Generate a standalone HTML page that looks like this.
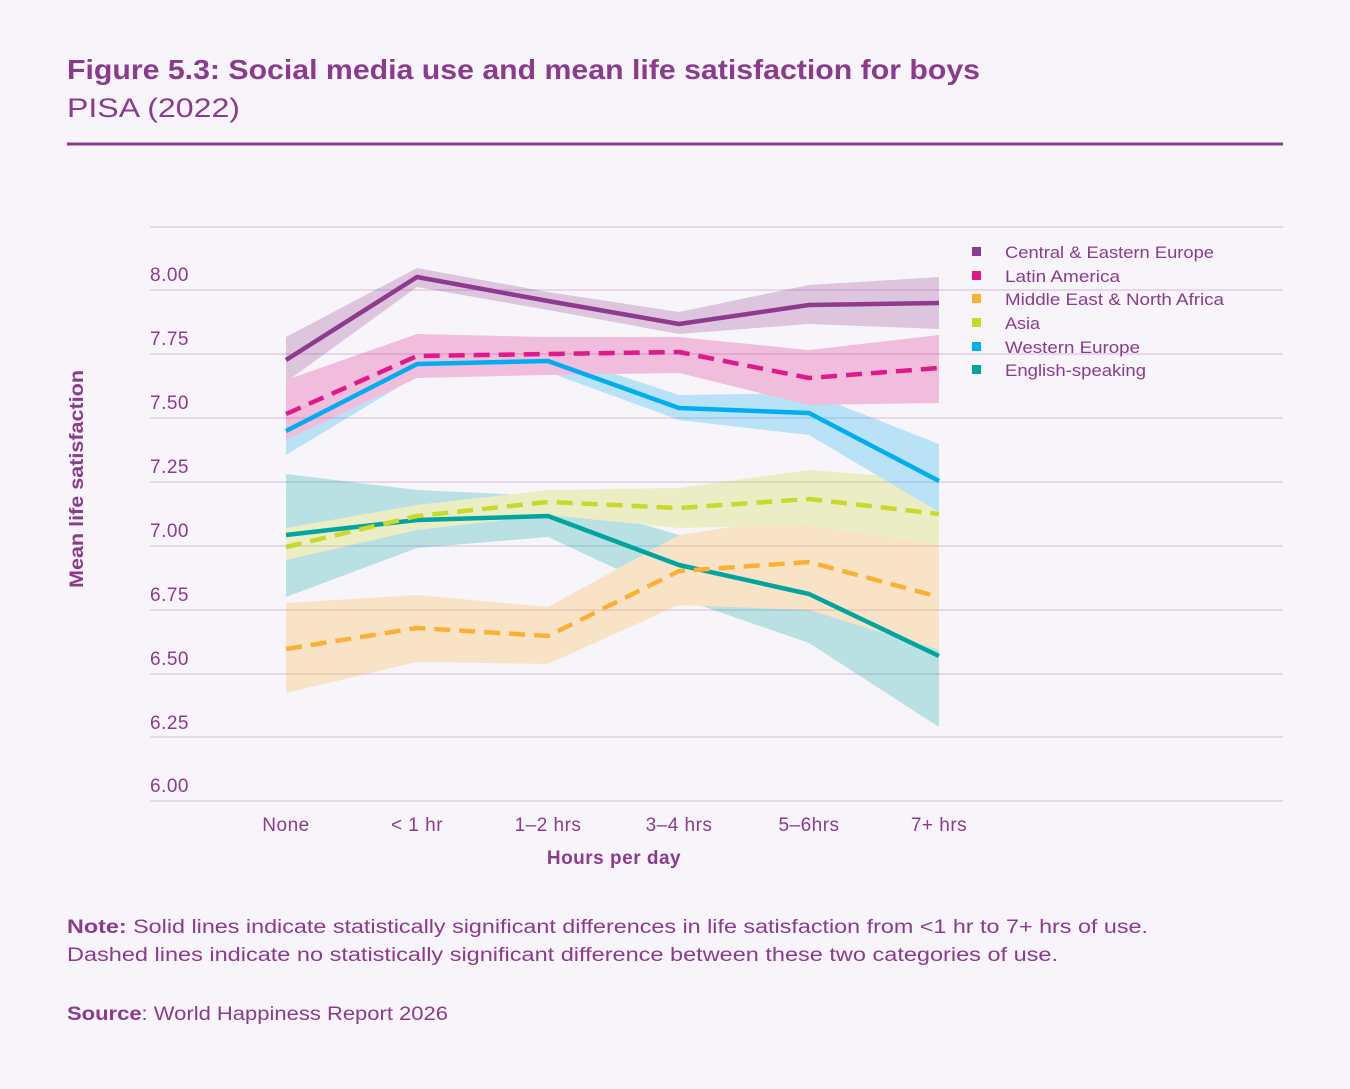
<!DOCTYPE html>
<html><head><meta charset="utf-8"><style>
body{margin:0;background:#f8f5fa;font-family:"Liberation Sans",sans-serif;}
</style></head><body>
<svg width="1350" height="1084" xmlns="http://www.w3.org/2000/svg" font-family="Liberation Sans, sans-serif">
<rect width="1350" height="1084" fill="#f8f5fa"/>
<text x="67" y="79" font-size="28" font-weight="bold" fill="#8b3a8e" textLength="913" lengthAdjust="spacingAndGlyphs">Figure 5.3: Social media use and mean life satisfaction for boys</text>
<text x="67" y="117" font-size="27" fill="#8b3a8e" textLength="173" lengthAdjust="spacingAndGlyphs">PISA (2022)</text>
<line x1="67" y1="144" x2="1283" y2="144" stroke="#8b3a8e" stroke-width="3"/>
<g stroke="#e6d8e8" stroke-width="2">
<line x1="150" y1="227" x2="1283" y2="227"/><line x1="150" y1="290" x2="1283" y2="290"/>
<line x1="150" y1="354" x2="1283" y2="354"/><line x1="150" y1="418" x2="1283" y2="418"/>
<line x1="150" y1="482" x2="1283" y2="482"/><line x1="150" y1="546" x2="1283" y2="546"/>
<line x1="150" y1="610" x2="1283" y2="610"/><line x1="150" y1="674" x2="1283" y2="674"/>
<line x1="150" y1="737" x2="1283" y2="737"/><line x1="150" y1="801" x2="1283" y2="801"/>
</g>
<g font-size="19" fill="#8b3a8e" letter-spacing="0.5">
<text x="150" y="281">8.00</text><text x="150" y="345">7.75</text><text x="150" y="409">7.50</text>
<text x="150" y="473">7.25</text><text x="150" y="537">7.00</text><text x="150" y="601">6.75</text>
<text x="150" y="665">6.50</text><text x="150" y="729">6.25</text><text x="150" y="792">6.00</text>
</g>
<g font-size="19" fill="#8b3a8e" text-anchor="middle" letter-spacing="0.5">
<text x="286" y="831">None</text><text x="417" y="831">&lt; 1 hr</text><text x="548" y="831">1–2 hrs</text>
<text x="679" y="831">3–4 hrs</text><text x="809" y="831">5–6hrs</text><text x="939" y="831">7+ hrs</text>
<text x="614" y="864" font-weight="bold">Hours per day</text>
</g>
<text transform="translate(83,479) rotate(-90)" x="-109" font-size="19" font-weight="bold" fill="#8b3a8e" textLength="218" lengthAdjust="spacingAndGlyphs">Mean life satisfaction</text>
<g opacity="0.25">
<polygon fill="#00a5a0" points="286,474 417,490 548,496 679,535 809,545 939,583 939,727 809,643 679,598 548,537 417,548 286,597"/>
<polygon fill="#fbb034" points="286,603 417,595 548,607 679,535 809,515 939,540 939,650 809,610 679,605 548,664 417,662 286,693"/>
<polygon fill="#c8d92b" points="286,528 417,505 548,490 679,488 809,470 939,480 939,545 809,525 679,528 548,515 417,530 286,560"/>
<polygon fill="#00aeef" points="286,408 417,353 548,352 679,395 809,393 939,444 939,512 809,435 679,420 548,372 417,376 286,455"/>
<polygon fill="#e0198a" points="286,380 417,334 548,337 679,337 809,350 939,335 939,403 809,405 679,373 548,375 417,378 286,440"/>
<polygon fill="#8e3a8f" points="286,337 417,268 548,292 679,312 809,285 939,277 939,329 809,324 679,334 548,310 417,287 286,382"/>
</g>
<g fill="none" stroke-width="4.5" stroke-linejoin="round">
<polyline stroke="#00a5a0" points="286,535 417,520 548,516 679,565 809,594 939,656"/>
<polyline stroke="#fbb034" stroke-dasharray="16,9" points="286,649 417,628 548,636 679,571 809,562 939,597"/>
<polyline stroke="#c8d92b" stroke-dasharray="16,9" points="286,547 417,516 548,502 679,508 809,499 939,514"/>
<polyline stroke="#00aeef" points="286,431 417,364 548,361 679,408 809,413 939,481"/>
<polyline stroke="#e0198a" stroke-dasharray="16,9" points="286,414 417,356 548,354 679,352 809,378 939,368"/>
<polyline stroke="#8e3a8f" points="286,360 417,277 548,301 679,324 809,305 939,303"/>
</g>
<g font-size="17" fill="#8b3a8e">
<rect x="972" y="247" width="9" height="9" fill="#8e3a8f"/><text x="1005" y="258" textLength="209" lengthAdjust="spacingAndGlyphs">Central &amp; Eastern Europe</text>
<rect x="972" y="271" width="9" height="9" fill="#e0198a"/><text x="1005" y="282" textLength="115" lengthAdjust="spacingAndGlyphs">Latin America</text>
<rect x="972" y="294" width="9" height="9" fill="#fbb034"/><text x="1005" y="305" textLength="219" lengthAdjust="spacingAndGlyphs">Middle East &amp; North Africa</text>
<rect x="972" y="318" width="9" height="9" fill="#c8d92b"/><text x="1005" y="329" textLength="35" lengthAdjust="spacingAndGlyphs">Asia</text>
<rect x="972" y="342" width="9" height="9" fill="#00aeef"/><text x="1005" y="353" textLength="135" lengthAdjust="spacingAndGlyphs">Western Europe</text>
<rect x="972" y="365" width="9" height="9" fill="#00a5a0"/><text x="1005" y="376" textLength="141" lengthAdjust="spacingAndGlyphs">English-speaking</text>
</g>
<g font-size="19" fill="#8b3a8e">
<text x="67" y="933" textLength="1081" lengthAdjust="spacingAndGlyphs"><tspan font-weight="bold">Note:</tspan> Solid lines indicate statistically significant differences in life satisfaction from &lt;1 hr to 7+ hrs of use.</text>
<text x="67" y="961" textLength="991" lengthAdjust="spacingAndGlyphs">Dashed lines indicate no statistically significant difference between these two categories of use.</text>
<text x="67" y="1020" textLength="381" lengthAdjust="spacingAndGlyphs"><tspan font-weight="bold">Source</tspan>: World Happiness Report 2026</text>
</g>
</svg>
</body></html>
